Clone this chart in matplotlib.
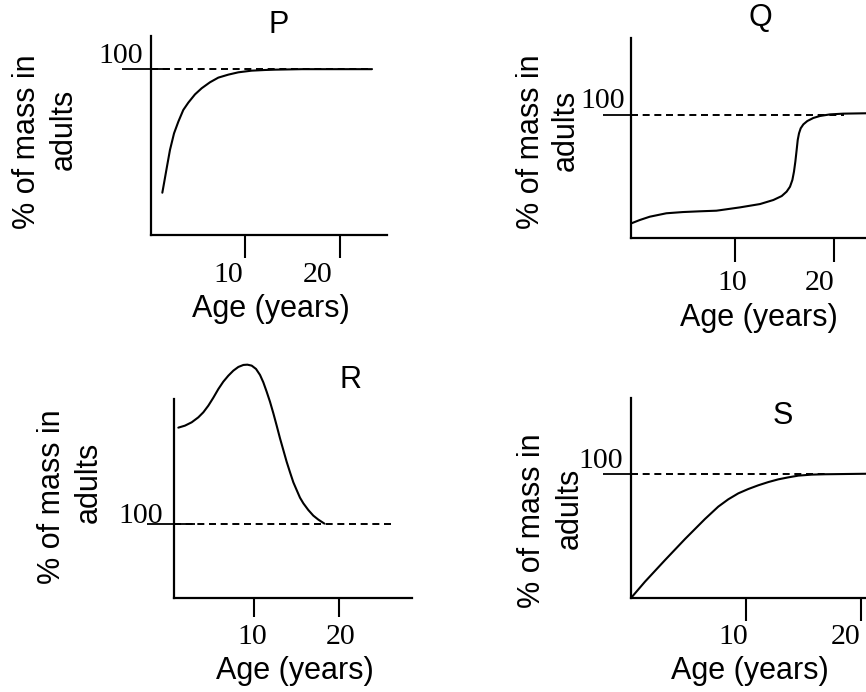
import matplotlib
matplotlib.use("Agg")
import matplotlib.pyplot as plt

W, H = 866, 692

# ---- data -------------------------------------------------------------
x_ticks = [10, 20]
x_tick_labels = ["10", "20"]
ref_level = 100
ref_label = "100"
panel_titles = ["P", "Q", "R", "S"]
x_label = "Age (years)"
y_label_lines = ["% of mass in", "adults"]

# P: rapid early growth, levelling off at the adult value
p_age = [1.20, 1.41, 1.69, 2.01, 2.44, 2.90, 3.42, 3.95, 4.66, 5.37, 6.25,
         7.13, 8.19, 9.25, 10.66, 12.08, 13.1, 16.0, 20.0, 23.4]
p_mass = [25.5, 32.2, 41.2, 51.3, 61.3, 68.4, 75.4, 79.8, 84.8, 88.5, 92.1,
          94.9, 96.7, 98.1, 99.1, 99.5, 99.7, 100.0, 100.0, 100.0]

# Q: slow growth, then a sharp spurt in the late teens
q_age = [-0.47, 0.38, 1.39, 3.07, 4.75, 6.44, 8.12, 8.49, 10.51, 12.53, 13.88,
         14.72, 15.22, 15.56, 15.80, 15.96, 16.10, 16.23, 16.34, 16.47, 16.64,
         16.91, 17.31, 17.92, 18.59, 19.60, 20.95, 23.24]
q_mass = [11.9, 14.6, 17.3, 20.1, 21.1, 21.7, 22.2, 22.6, 24.9, 27.6, 30.9,
          34.1, 37.7, 41.7, 47.2, 53.9, 62.1, 71.5, 79.7, 85.1, 89.2,
          92.4, 95.1, 97.6, 99.2, 100.5, 101.1, 101.4]

# R: overshoot in childhood, falling back to the adult value
r_age = [1.11, 1.89, 2.68, 3.46, 4.05, 4.64, 5.23, 5.82, 6.40, 6.99, 7.58,
         8.17, 8.76, 9.23, 9.74, 10.25, 10.72, 11.11, 11.50, 11.89, 12.29,
         12.68, 13.07, 13.46, 13.85, 14.25, 14.64, 15.03, 15.42, 15.82, 16.40,
         16.99, 17.58, 18.30]
r_mass = [230.2, 232.9, 237.4, 244.1, 250.9, 259.9, 270.7, 282.4, 292.3, 300.4,
          307.2, 312.2, 314.9, 315.3, 314.0, 309.5, 301.4, 291.4, 278.8, 265.3,
          249.5, 232.9, 215.8, 200.0, 184.2, 169.8, 156.3, 145.9, 135.6, 127.9,
          118.9, 111.3, 105.9, 100.5]

# S: steady growth from birth, reaching the adult value in the mid-teens
s_age = [0.0, 1.22, 2.96, 4.70, 6.43, 7.59, 8.46, 9.33, 10.2, 11.07, 11.94,
         12.81, 13.68, 14.55, 15.71, 16.87, 20.43]
s_mass = [0.0, 13.2, 30.6, 47.6, 63.7, 73.7, 79.6, 84.4, 87.9, 90.9, 93.5,
          95.7, 97.3, 98.7, 99.5, 99.8, 100.2]

SERIF = "Liberation Serif"
SANS = "Liberation Sans"
NUM_SIZE = 21.5
TXT_SIZE = 22

fig = plt.figure(figsize=(W / 100, H / 100), dpi=100)


def px_rect(x0, y_top, x1, y_bot):
    return [x0 / W, 1 - y_bot / H, (x1 - x0) / W, (y_bot - y_top) / H]


def fig_xy(x, y):
    return x / W, 1 - y / H


def px2pt(v):
    return v * 72 / 100


def make_panel(rect, xlim, ylim, age, mass, dash_end, tick_len,
               ref_out, ref_in, ref_off, tick_label_specs):
    ax = fig.add_axes(px_rect(*rect))
    ax.set_xlim(*xlim)
    ax.set_ylim(*ylim)
    for side in ("top", "right"):
        ax.spines[side].set_visible(False)
    for side in ("left", "bottom"):
        ax.spines[side].set_linewidth(1.6)
        ax.spines[side].set_capstyle("projecting")
    ax.patch.set_visible(False)

    ax.set_xticks(x_ticks)
    ax.set_xticklabels([])
    ax.tick_params(axis="x", direction="out", length=px2pt(tick_len), width=1.5)

    ax.set_yticks([ref_level])
    ax.set_yticklabels([])
    ax.tick_params(axis="y", which="major", direction="out",
                   length=px2pt(ref_out), width=1.3)
    if ref_in:
        ax.yaxis.remove_overlapping_locs = False
        ax.set_yticks([ref_level], minor=True)
        ax.tick_params(axis="y", which="minor", direction="in",
                       length=px2pt(ref_in), width=1.3)

    ax.plot([xlim[0], dash_end], [ref_level, ref_level], color="black",
            lw=1.4, linestyle=(0, (3.6, 2.4)), solid_capstyle="butt")
    ax.plot(age, mass, color="black", lw=1.5, clip_on=False,
            solid_capstyle="round", solid_joinstyle="round", zorder=3)

    ax.annotate(ref_label, xy=(xlim[0], ref_level), xycoords="data",
                xytext=ref_off, textcoords="offset pixels",
                ha="right", va="baseline", family=SERIF, fontsize=NUM_SIZE,
                annotation_clip=False)
    for t, lab, (ha, dx, dy) in zip(x_ticks, x_tick_labels, tick_label_specs):
        ax.annotate(lab, xy=(t, 0), xycoords=("data", "axes fraction"),
                    xytext=(dx, dy), textcoords="offset pixels",
                    ha=ha, va="baseline", family=SERIF, fontsize=NUM_SIZE,
                    annotation_clip=False)
    return ax


def panel_text(title, title_xy, xlab_xy, ylab1_xy, ylab2_xy):
    fig.text(*fig_xy(*title_xy), title, ha="center", va="baseline",
             family=SANS, fontsize=TXT_SIZE)
    fig.text(*fig_xy(*xlab_xy), x_label, ha="center", va="baseline",
             family=SANS, fontsize=TXT_SIZE)
    for line, xy in zip(y_label_lines, (ylab1_xy, ylab2_xy)):
        fig.text(*fig_xy(*xy), line, ha="center", va="baseline",
                 rotation=90, rotation_mode="anchor",
                 family=SANS, fontsize=TXT_SIZE)


# P
make_panel((151, 36, 387, 235), (0, 25), (0, 120), p_age, p_mass,
           dash_end=23.5, tick_len=23, ref_out=29, ref_in=19, ref_off=(-8, 6),
           tick_label_specs=[("right", -2, -47), ("right", -7, -47)])
panel_text(panel_titles[0], (279, 33), (271, 317), (35, 142), (72, 129))

# Q
make_panel((631, 38, 880, 238), (-0.5, 24.65), (0, 162.6), q_age, q_mass,
           dash_end=21.0, tick_len=24, ref_out=28, ref_in=0, ref_off=(-6, 7),
           tick_label_specs=[("center", -3, -52), ("right", 1, -52)])
panel_text(panel_titles[1], (760, 26), (759, 326), (539, 142), (574, 130))

# R
make_panel((174, 399, 412, 598), (0.6, 28.6), (0, 268.9), r_age, r_mass,
           dash_end=26.3, tick_len=19, ref_out=27, ref_in=21, ref_off=(-11, 1),
           tick_label_specs=[("center", -1.5, -46), ("center", 2, -46)])
panel_text(panel_titles[2], (351, 388), (295, 679), (60, 497), (97, 482))

# S
make_panel((631, 398, 880, 598), (0, 21.65), (0, 161.3), s_age, s_mass,
           dash_end=17.0, tick_len=23, ref_out=28, ref_in=0, ref_off=(-8, 6),
           tick_label_specs=[("right", 2, -46), ("right", -1, -46)])
panel_text(panel_titles[3], (783, 424), (750, 679), (540, 521), (578, 508))

fig.savefig("out.png", dpi=100)
